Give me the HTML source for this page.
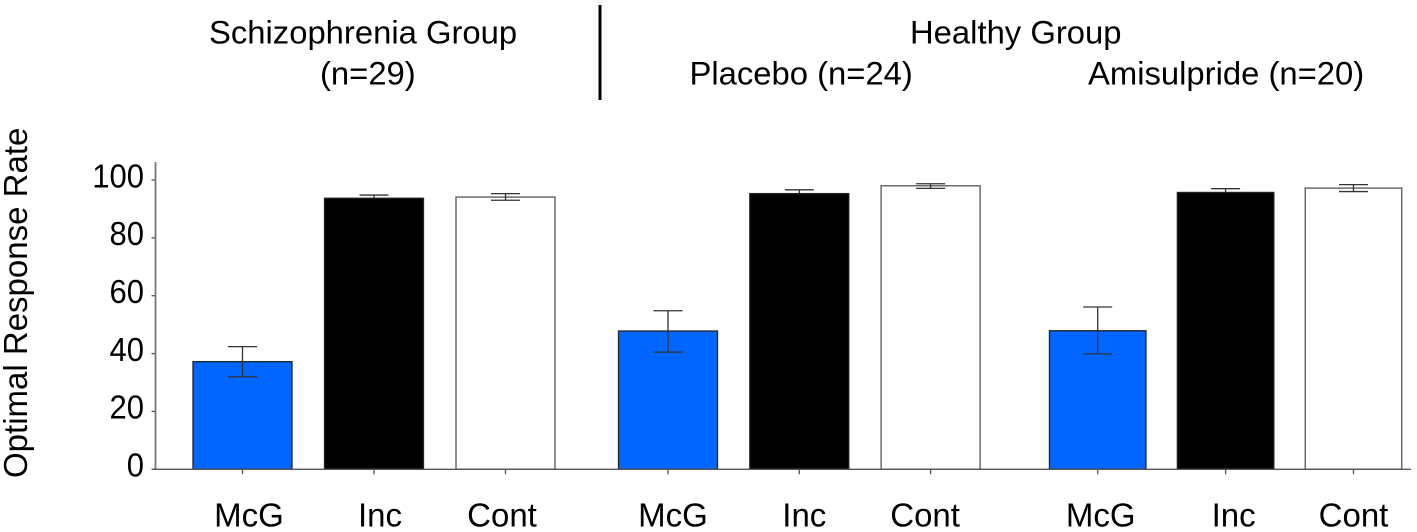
<!DOCTYPE html>
<html lang="en">
<head>
<meta charset="utf-8">
<title>Optimal Response Rate by Group</title>
<style>
html,body{margin:0;padding:0;background:#fff;width:1417px;height:532px;overflow:hidden}
svg{display:block;font-family:"Liberation Sans",Arial,sans-serif;fill:#000}
</style>
</head>
<body>
<svg id="chart" xmlns="http://www.w3.org/2000/svg" width="1417" height="532" viewBox="0 0 1417 532">
  <text x="209" y="43.3" font-size="32.8">Schizophrenia Group</text>
  <text x="320" y="84.5" font-size="32.8">(n=29)</text>
  <line x1="600" y1="5" x2="600" y2="100" stroke="#000" stroke-width="3"/>
  <text x="910" y="43.3" font-size="32.8">Healthy Group</text>
  <text x="689.5" y="84.5" font-size="32.8">Placebo (n=24)</text>
  <text x="1088" y="84.5" font-size="32.8">Amisulpride (n=20)</text>
  <text transform="translate(27,478) rotate(-90)" font-size="33">Optimal Response Rate</text>
</svg>
<script>
const categories = ['McG', 'Inc', 'Cont', 'McG', 'Inc', 'Cont', 'McG', 'Inc', 'Cont'];
const means = [37.2, 93.7, 94.1, 47.8, 95.3, 98.0, 47.9, 95.7, 97.2];
const errorHigh = [42.4, 94.8, 95.3, 54.8, 96.6, 98.7, 56.1, 97.0, 98.4];
const errorLow = [32.0, 93.0, 93.0, 40.5, 94.5, 97.1, 39.9, 95.0, 96.0];
const fills = ['#0066ff', '#000000', '#ffffff', '#0066ff', '#000000', '#ffffff', '#0066ff', '#000000', '#ffffff'];
const yTicks = [0, 20, 40, 60, 80, 100];

const svg = document.getElementById('chart');
const NS = 'http://www.w3.org/2000/svg';

function yScale(v) {
  return 469.3 - v * 2.893;
}
function xCenter(i) {
  const group = Math.floor(i / 3);
  const member = i % 3;
  if (group === 0) return 242.5 + member * 131.5;
  if (group === 1) return 668 + member * 131.3;
  return 1097.7 + member * 127.9;
}
function xLabelOffset(i) {
  const offsets = [6.5, 6, -3.5, 5, 5, -5.5, 3, 8, 0];
  return offsets[i];
}
function barWidth(i) {
  return i >= 6 ? 96.5 : 99;
}
function make(tag, attrs) {
  const el = document.createElementNS(NS, tag);
  for (const k in attrs) el.setAttribute(k, attrs[k]);
  return el;
}

means.forEach(function (m, i) {
  const cx = xCenter(i);
  const w = barWidth(i);
  const bar = make('rect', {
    x: cx - w / 2, y: yScale(m), width: w, height: yScale(0) - yScale(m),
    fill: fills[i], stroke: fills[i] === '#ffffff' ? '#555' : '#222', 'stroke-width': 1.3
  });
  
  
  if (fills[i] !== '#000000') svg.appendChild(bar);

  const stem = make('line', {
    x1: cx, x2: cx, y1: yScale(errorHigh[i]), y2: yScale(errorLow[i]),
    stroke: '#333', 'stroke-width': 1.3
  });
  
  
  svg.appendChild(stem);

  [errorHigh[i], errorLow[i]].forEach(function (v) {
    const cap = make('line', {
      x1: cx - 14.5, x2: cx + 14.5, y1: yScale(v), y2: yScale(v),
      stroke: '#333', 'stroke-width': 1.3
    });
    
    
    svg.appendChild(cap);
  });

  if (fills[i] === '#000000') svg.appendChild(bar);

  const tick = make('line', {
    x1: cx, x2: cx, y1: yScale(0), y2: yScale(0) + 5, stroke: '#555', 'stroke-width': 1.3
  });
  
  
  svg.appendChild(tick);

  const label = make('text', { x: cx + xLabelOffset(i), y: 526.5, 'font-size': 33, 'text-anchor': 'middle' });
  
  
  label.textContent = categories[i];
  svg.appendChild(label);
});

const yAxis = make('line', {
  x1: 155.5, x2: 155.5, y1: 162, y2: yScale(0), stroke: '#777', 'stroke-width': 1.8
});


svg.appendChild(yAxis);

const xAxis = make('line', {
  x1: 152, x2: 1411, y1: yScale(0), y2: yScale(0), stroke: '#555', 'stroke-width': 1.4
});


svg.appendChild(xAxis);

yTicks.forEach(function (t) {
  const tick = make('line', {
    x1: 151.5, x2: 155, y1: yScale(t), y2: yScale(t), stroke: '#555', 'stroke-width': 1.3
  });
  
  
  svg.appendChild(tick);

  const label = make('text', {
    transform: 'translate(144,' + (yScale(t) + 7.3) + ') scale(0.92,1)',
    'font-size': 33.7, 'text-anchor': 'end'
  });
  
  
  label.textContent = t;
  svg.appendChild(label);
});
</script>
</body>
</html>
